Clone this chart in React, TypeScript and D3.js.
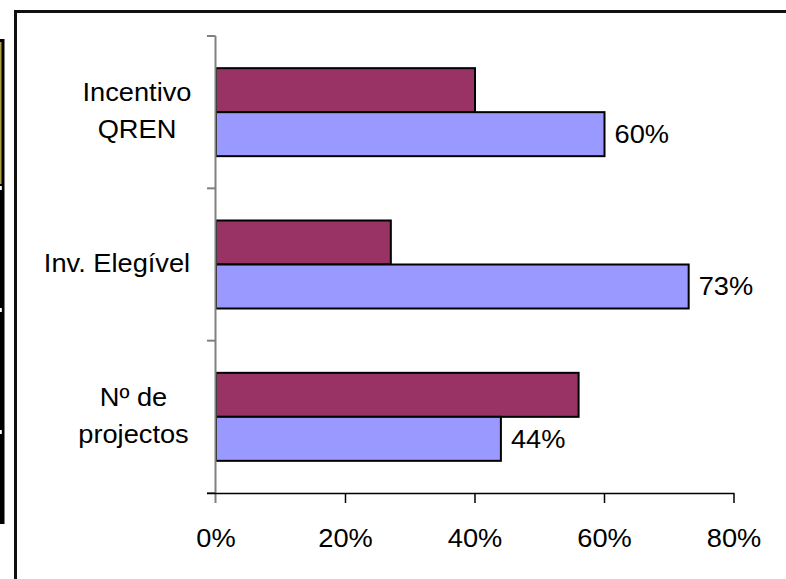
import React from "react";
import * as d3 from "d3";

const categories = ["Incentivo|QREN", "Inv. Elegível", "Nº de|projectos"];
const seriesMaroon = [40, 27, 56];
const seriesBlue = [60, 73, 44];
const blueLabels = ["60%", "73%", "44%"];
const xTicks = [0, 20, 40, 60, 80];

const W = 786;
const H = 579;
const FONT = "'Liberation Sans', Arial, sans-serif";
const FS = 25;
const SX = 1.09;

export default function App() {
  const x = d3.scaleLinear().domain([0, 80]).range([216, 734]);
  const y = d3.scaleBand<string>().domain(categories).range([36, 493]);
  const bw = y.bandwidth();
  const inner = d3
    .scaleBand<string>()
    .domain(["m", "b"])
    .range([0, bw])
    .paddingInner(0)
    .paddingOuter(0.731);
  const bh = inner.bandwidth();
  const boundaries = [...categories.map((c) => y(c) as number), 493];

  const stretchText = (
    tx: number,
    ty: number,
    txt: string,
    anchor: string,
    key: string | number,
    fs = FS
  ) => (
    <text
      key={key}
      transform={`translate(${tx},${ty}) scale(${SX},1)`}
      textAnchor={anchor}
      fontFamily={FONT}
      fontSize={fs}
      fill="#000"
      dy="0.35em"
    >
      {txt}
    </text>
  );

  const blockWidths: Record<string, number> = {
    "Incentivo": 110,
    "QREN": 60,
    "Inv. Elegível": 150,
    "Nº de": 60,
    "projectos": 117,
  };

  return (
    <svg
      width={W}
      height={H}
      style={{ position: "absolute", left: 0, top: 0, background: "#fff" }}
    >
      {/* partially visible neighbouring element on the left */}
      <rect x={0} y={39} width={4.5} height={485} fill="#000" />
      <rect x={0} y={42} width={1.5} height={142} fill="#a8a040" />
      <rect x={0} y={186} width={1.8} height={4} fill="#fff" />
      <rect x={0} y={308} width={1.8} height={4} fill="#fff" />
      <rect x={0} y={430} width={1.8} height={4} fill="#fff" />

      {/* chart frame */}
      <rect
        x={15.5}
        y={11.5}
        width={900}
        height={700}
        fill="#fff"
        stroke="#111"
        strokeWidth={3}
      />

      {/* bars */}
      {categories.map((c, i) => {
        const y0 = y(c) as number;
        return (
          <g key={c}>
            <rect
              x={x(0)}
              y={y0 + (inner("m") as number)}
              width={x(seriesMaroon[i]) - x(0)}
              height={bh}
              fill="#993366"
              stroke="#000"
              strokeWidth={2}
            />
            <rect
              x={x(0)}
              y={y0 + (inner("b") as number)}
              width={x(seriesBlue[i]) - x(0)}
              height={bh}
              fill="#9999FF"
              stroke="#000"
              strokeWidth={2}
            />
          </g>
        );
      })}

      {/* y axis */}
      <line x1={215.5} x2={215.5} y1={36} y2={503} stroke="#808080" strokeWidth={2} />
      {boundaries.map((b, i) => (
        <line key={i} x1={207} x2={215.5} y1={b} y2={b} stroke="#808080" strokeWidth={2} />
      ))}

      {/* x axis */}
      <line x1={207} x2={x(80) + 0.5} y1={493.5} y2={493.5} stroke="#000" strokeWidth={1.5} />
      {xTicks.slice(1).map((t) => (
        <line key={t} x1={x(t)} x2={x(t)} y1={493.5} y2={503} stroke="#000" strokeWidth={1.5} />
      ))}
      {xTicks.map((t) => stretchText(x(t), 538, `${t}%`, "middle", "xt" + t))}

      {/* category labels: block right-aligned at 192, lines centred in the block */}
      {categories.map((c, i) => {
        const lines = c.split("|");
        const cy = (y(c) as number) + bw / 2 - 1;
        const bwMax = Math.max(...lines.map((l) => blockWidths[l] ?? l.length * 12));
        const centerX = 192 - bwMax / 2;
        const lh = 37;
        return (
          <g key={"cl" + i}>
            {lines.map((l, j) =>
              stretchText(
                centerX,
                cy + (j - (lines.length - 1) / 2) * lh,
                l,
                "middle",
                "l" + j
              )
            )}
          </g>
        );
      })}

      {/* value labels on blue bars */}
      {categories.map((c, i) =>
        stretchText(
          x(seriesBlue[i]) + 10,
          (y(c) as number) + (inner("b") as number) + bh / 2,
          blueLabels[i],
          "start",
          "v" + i
        )
      )}
    </svg>
  );
}
